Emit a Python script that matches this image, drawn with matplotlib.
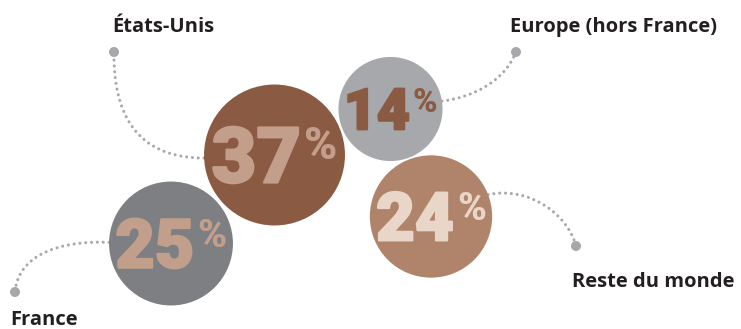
import numpy as np
import matplotlib
matplotlib.use("Agg")
import matplotlib.pyplot as plt
import matplotlib.patheffects as pe
from matplotlib.patches import Circle, PathPatch
from matplotlib.path import Path

# Répartition par zone géographique
regions = ["États-Unis", "Europe (hors France)", "France", "Reste du monde"]
shares = [37, 14, 25, 24]

# Layout (pixel coordinates, y pointing down)
centers = [(274.5, 155.0), (390.5, 109.0), (171.0, 243.5), (431.0, 216.5)]
fill_colors = ["#8B5A42", "#A7A8AC", "#7E7F83", "#B0846A"]
number_colors = ["#C39F8B", "#8B5A42", "#C29F8A", "#E9D6C9"]
anchor_angles = [177.5, -8.7, 181.0, -21.0]
label_pos = [(112, 32), (510, 32), (10, 325), (572, 287)]
dot_pos = [(114, 52), (516, 52), (15, 292), (576, 246)]
ctrl = [
    [(150, 158), (113, 130)],
    [(475, 97), (505, 80)],
    [(60, 240), (18, 255)],
    [(530, 186), (568, 215)],
]

W, H = 741, 329
fig = plt.figure(figsize=(W / 100, H / 100), dpi=100)
ax = fig.add_axes([0, 0, 1, 1])
ax.set_xlim(0, W)
ax.set_ylim(H, 0)
ax.set_aspect("equal")
ax.axis("off")

line_color = "#A7A8AC"
label_color = "#231F20"
num_family = "Roboto"


def radius(v):
    return 7.87 * np.sqrt(v) + 22.6


fig.canvas.draw()
renderer = fig.canvas.get_renderer()

for v, name, (cx, cy), fc, nc, ang, lp, dp, cp in zip(
    shares, regions, centers, fill_colors, number_colors,
    anchor_angles, label_pos, dot_pos, ctrl
):
    r = radius(v)
    ax.add_patch(Circle((cx, cy), r, facecolor=fc, edgecolor="none", zorder=2))

    # dotted connector from circle edge to the label dot
    a = np.deg2rad(ang)
    start = (cx + r * np.cos(a), cy + r * np.sin(a))
    path = Path([start, cp[0], cp[1], dp],
                [Path.MOVETO, Path.CURVE4, Path.CURVE4, Path.CURVE4])
    ax.add_patch(PathPatch(path, facecolor="none", edgecolor=line_color,
                           lw=2.2, linestyle=(0, (0.01, 1.9)),
                           capstyle="round", zorder=1))
    ax.add_patch(Circle(dp, 5, facecolor=line_color, edgecolor="none", zorder=3))

    ax.text(lp[0], lp[1], name, fontsize=14.5, fontweight="bold",
            family="Open Sans", color=label_color, ha="left", va="baseline")

    # big number with a raised percent sign, centred in the circle
    digit_h = 0.78 * r
    fs_num = digit_h / 0.711 * 0.72
    fs_pct = fs_num * 0.58
    base = cy + digit_h / 2
    heavy = [pe.withStroke(linewidth=1.6, foreground=nc)]
    t_num = ax.text(0, base, str(v), fontsize=fs_num, fontweight="black",
                    family=num_family, color=nc, ha="left", va="baseline",
                    zorder=4, path_effects=heavy)
    t_pct = ax.text(0, base - digit_h + fs_pct / 0.72 * 0.711, "%",
                    fontsize=fs_pct, fontweight="black", family=num_family,
                    color=nc, ha="left", va="baseline", zorder=4)
    w_num = t_num.get_window_extent(renderer).width
    w_pct = t_pct.get_window_extent(renderer).width
    gap = 3
    total = w_num + gap + w_pct
    x0 = cx - total / 2
    t_num.set_x(x0)
    t_pct.set_x(x0 + w_num + gap)

fig.savefig("out.png", dpi=100, facecolor="white")
